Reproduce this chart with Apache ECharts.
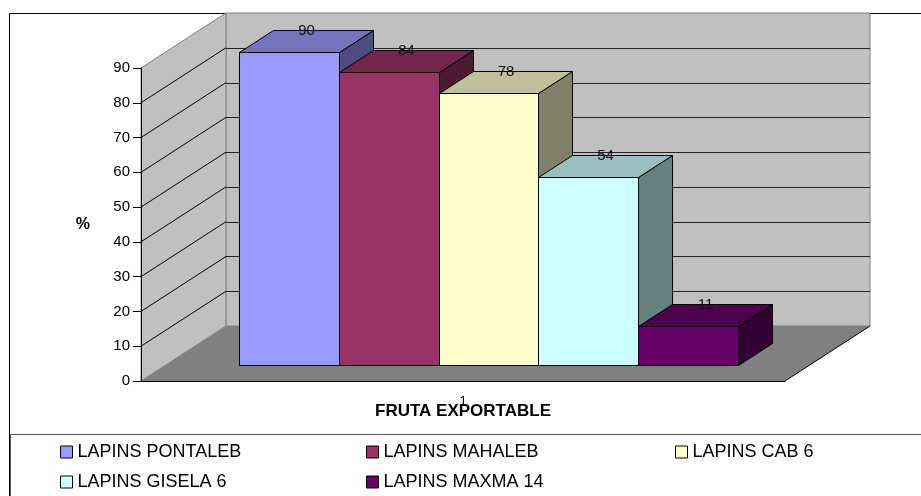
<!DOCTYPE html>
<html>
<head>
<meta charset="utf-8">
<script src="https://cdn.jsdelivr.net/npm/echarts@6/dist/echarts.min.js"></script>
<style>
  html, body { margin: 0; padding: 0; background: #fff; }
  #chart { width: 921px; height: 496px; }
</style>
</head>
<body>
<div id="chart"></div>
<script>
// data
var categories = ['1']
var seriesNames = ['LAPINS PONTALEB', 'LAPINS MAHALEB', 'LAPINS CAB 6', 'LAPINS GISELA 6', 'LAPINS MAXMA 14']
var seriesValues = [90, 84, 78, 54, 11]
var seriesColors = ['#9999FF', '#993366', '#FFFFCC', '#CCFFFF', '#660066']
var yMin = 0
var yMax = 90
var yStep = 10

// fake 3d look
var DEPTH_X = 85
var DEPTH_Y = -55
var BAR_FRONT = 0.3
var BAR_BACK = 0.7
var BAR_RATIO = 0.155
var FONT = "'Liberation Sans', Arial, sans-serif"

function shade(hex, k) {
  var n = parseInt(hex.slice(1), 16)
  var r = Math.round(((n >> 16) & 255) * k)
  var g = Math.round(((n >> 8) & 255) * k)
  var b = Math.round((n & 255) * k)
  return 'rgb(' + r + ',' + g + ',' + b + ')'
}

function px(v) {
  return Math.round(v) + 0.5
}

function renderWalls(params, api) {
  var cs = params.coordSys
  var x0 = cs.x
  var x1 = cs.x + cs.width
  var yb = api.coord([0, yMin])[1]
  var yt = api.coord([0, yMax])[1]
  var dx = DEPTH_X
  var dy = DEPTH_Y
  var children = []
  // back wall
  children.push({
    type: 'polygon',
    shape: { points: [[x0 + dx, yt + dy], [x1 + dx, yt + dy], [x1 + dx, yb + dy], [x0 + dx, yb + dy]] },
    style: { fill: '#C0C0C0', stroke: '#808080', lineWidth: 1 }
  })
  // side wall
  children.push({
    type: 'polygon',
    shape: { points: [[x0, yb], [x0 + dx, yb + dy], [x0 + dx, yt + dy], [x0, yt]] },
    style: { fill: '#C0C0C0', stroke: '#808080', lineWidth: 1 }
  })
  // floor
  children.push({
    type: 'polygon',
    shape: { points: [[x0, yb], [x1, yb], [x1 + dx, yb + dy], [x0 + dx, yb + dy]] },
    style: { fill: '#808080' }
  })
  children.push({
    type: 'line',
    shape: { x1: x1, y1: yb, x2: x1 + dx, y2: yb + dy },
    style: { stroke: '#000', lineWidth: 1 }
  })
  // grid lines
  for (var v = yMin + yStep; v < yMax; v += yStep) {
    var y = api.coord([0, v])[1]
    children.push({
      type: 'line',
      shape: { x1: x0, y1: y, x2: x0 + dx, y2: y + dy },
      style: { stroke: '#000', lineWidth: 1 }
    })
    children.push({
      type: 'line',
      shape: { x1: x0 + dx, y1: px(y + dy), x2: x1 + dx, y2: px(y + dy) },
      style: { stroke: '#222', lineWidth: 1 }
    })
  }
  return { type: 'group', children: children }
}

function barRenderer(idx) {
  return function(params, api) {
    var band = api.size([1, 0])[0]
    var bw = band * BAR_RATIO
    var center = api.coord([api.value(0), 0])[0]
    var left = center - bw * seriesValues.length / 2 + bw * idx
    var yb = api.coord([api.value(0), yMin])[1]
    var yt = api.coord([api.value(0), api.value(1)])[1]
    var fx = DEPTH_X * BAR_FRONT
    var fy = DEPTH_Y * BAR_FRONT
    var tx = DEPTH_X * (BAR_BACK - BAR_FRONT)
    var ty = DEPTH_Y * (BAR_BACK - BAR_FRONT)
    var L = px(left + fx)
    var R = px(left + bw + fx)
    var T = px(yt + fy)
    var B = px(yb + fy)
    var col = seriesColors[idx]
    var line = { stroke: '#000', lineWidth: 1 }
    return {
      type: 'group',
      children: [
        {
          type: 'polygon',
          shape: { points: [[R, T], [R + tx, T + ty], [R + tx, B + ty], [R, B]] },
          style: Object.assign({ fill: shade(col, 0.5) }, line)
        },
        {
          type: 'polygon',
          shape: { points: [[L, T], [L + tx, T + ty], [R + tx, T + ty], [R, T]] },
          style: Object.assign({ fill: shade(col, 0.75) }, line)
        },
        {
          type: 'rect',
          shape: { x: L, y: T, width: R - L, height: B - T },
          style: Object.assign({ fill: col }, line)
        },
        {
          type: 'text',
          style: {
            text: String(api.value(1)),
            x: (L + R) / 2 + tx / 2,
            y: T + ty,
            align: 'center',
            verticalAlign: 'middle',
            fontSize: 15,
            fontFamily: FONT,
            fill: '#111'
          }
        }
      ]
    }
  }
}

var series = [{
  name: 'walls',
  type: 'custom',
  silent: true,
  renderItem: renderWalls,
  data: [[0, 0]],
  z: 1
}]
for (var i = 0; i < seriesNames.length; i++) {
  series.push({
    name: seriesNames[i],
    type: 'custom',
    renderItem: barRenderer(i),
    itemStyle: { color: seriesColors[i] },
    data: [[0, seriesValues[i]]],
    z: 2
  })
}

var legendPos = [[60, 443], [366, 443], [675, 443], [60, 473], [366, 473]]
var legends = seriesNames.map(function(name, i) {
  return {
    data: [name],
    left: legendPos[i][0],
    top: legendPos[i][1],
    padding: 0,
    icon: 'rect',
    itemWidth: 12,
    itemHeight: 12,
    itemStyle: { borderColor: '#000', borderWidth: 1 },
    textStyle: { fontSize: 18, fontFamily: FONT, color: '#000' },
    selectedMode: false
  }
})

var chart = echarts.init(document.getElementById('chart'))
chart.setOption({
  backgroundColor: '#fff',
  animation: false,
  color: seriesColors,
  textStyle: { fontFamily: FONT },
  grid: { left: 141, right: 136, top: 68, bottom: 115 },
  graphic: [
    { type: 'rect', z: -10, shape: { x: 9.5, y: 13.5, width: 930, height: 520 }, style: { fill: 'none', stroke: '#000', lineWidth: 1 } },
    { type: 'rect', z: -10, shape: { x: 10.5, y: 434.5, width: 930, height: 100 }, style: { fill: 'none', stroke: '#555', lineWidth: 1 } }
  ],
  legend: legends,
  xAxis: {
    type: 'category',
    data: categories,
    z: 5,
    name: 'FRUTA EXPORTABLE',
    nameLocation: 'middle',
    nameGap: 22,
    nameMoveOverlap: false,
    nameTextStyle: { fontSize: 17, fontWeight: 'bold', color: '#000', fontFamily: FONT },
    axisLine: { lineStyle: { color: '#000', width: 1 } },
    axisTick: { length: 6, lineStyle: { color: '#000' } },
    axisLabel: { margin: 14, fontSize: 13, color: '#000' },
    splitLine: { show: false }
  },
  yAxis: {
    type: 'value',
    min: yMin,
    max: yMax,
    interval: yStep,
    z: 5,
    name: '%',
    nameLocation: 'middle',
    nameRotate: 0,
    nameGap: 51,
    nameMoveOverlap: false,
    nameTextStyle: { fontSize: 16, fontWeight: 'bold', color: '#000', fontFamily: FONT },
    axisLine: { show: true, lineStyle: { color: '#000', width: 1 } },
    axisTick: { show: true, length: 8, lineStyle: { color: '#000' } },
    axisLabel: { margin: 11, fontSize: 15, color: '#000' },
    splitLine: { show: false }
  },
  series: series
})
</script>
</body>
</html>
